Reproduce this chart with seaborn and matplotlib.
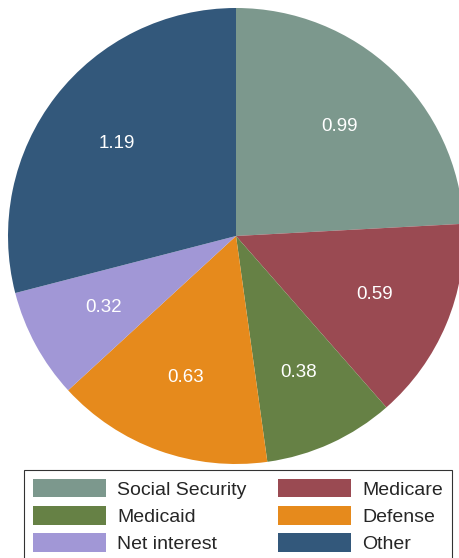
import matplotlib
matplotlib.use("Agg")
import matplotlib.pyplot as plt
import seaborn as sns

categories = ['Social Security', 'Medicare', 'Medicaid', 'Defense', 'Net interest', 'Other']
values = [0.99, 0.59, 0.38, 0.63, 0.32, 1.19]
colors = ['#7c988d', '#9a4a52', '#668145', '#e68a1c', '#a197d6', '#33587b']

sns.set_style('white')
plt.rcParams['font.family'] = ['Liberation Sans', 'DejaVu Sans']

fig = plt.figure(figsize=(4.59, 5.58), dpi=100)
ax = fig.add_axes([8 / 459, (558 - 464) / 558, 456 / 459, 456 / 558])

total = sum(values)
wedges, texts, autotexts = ax.pie(
    values, colors=sns.color_palette(colors), startangle=90, counterclock=False,
    autopct=lambda p: f'{p * total / 100:.2f}', pctdistance=0.66,
    wedgeprops={'linewidth': 0},
    textprops={'color': 'white', 'fontsize': 13.5})
ax.set_xlim(-1, 1)
ax.set_ylim(-1, 1)
ax.set_aspect('equal')

# legend in the bottom strip, ordered row-wise
order = [0, 2, 4, 1, 3, 5]
leg = fig.legend([wedges[i] for i in order], [categories[i] for i in order],
                 loc='upper left', bbox_to_anchor=(24 / 459, 1 - 470 / 558),
                 borderaxespad=0, ncol=2, fontsize=14, frameon=True, fancybox=False,
                 handlelength=3.75, handleheight=1.1, columnspacing=1.6,
                 handletextpad=0.6, labelspacing=0.38, borderpad=0.45)
leg.get_frame().set_edgecolor('black')
leg.get_frame().set_linewidth(0.8)

fig.savefig('out.png', dpi=100)
